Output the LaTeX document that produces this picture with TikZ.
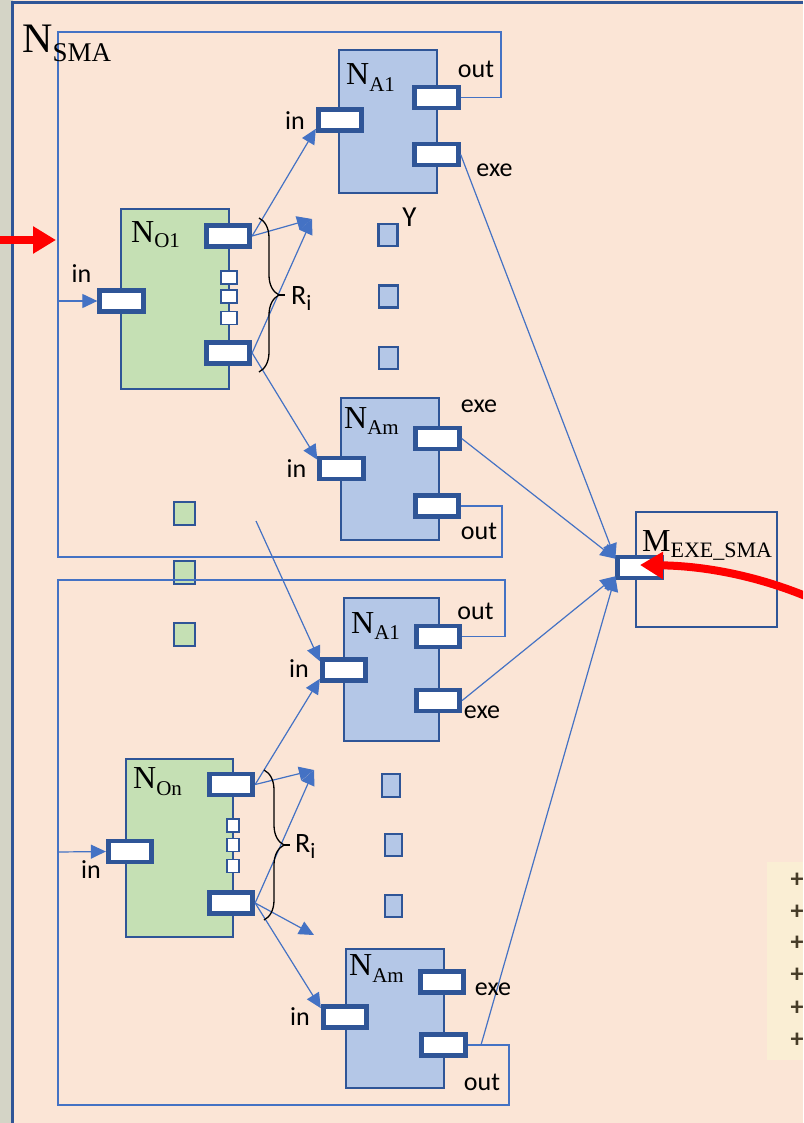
\documentclass[tikz,border=0pt]{standalone}
\usepackage{fontspec}
\setmainfont{Liberation Serif}
\newfontfamily\calib{Carlito}
\usetikzlibrary{arrows.meta,decorations.pathreplacing}
\definecolor{peach}{HTML}{FBE5D6}
\definecolor{gfill}{HTML}{C5E0B4}
\definecolor{bfill}{HTML}{B4C7E7}
\definecolor{dblue}{HTML}{2F5597}
\definecolor{lblue}{HTML}{4472C4}
\definecolor{marble}{RGB}{212,212,198}
\definecolor{pale}{RGB}{250,238,212}
\definecolor{plusc}{RGB}{70,60,40}
\newcommand{\mylab}[4]{{\fontsize{#1}{#1}\selectfont N}\raisebox{-#4pt}{\fontsize{#2}{#2}\selectfont #3}}
\begin{document}
\begin{tikzpicture}[x=1pt,y=-1pt,
 gbox/.style={draw=dblue,fill=gfill,line width=2.2pt,inner sep=0pt},
 bbox/.style={draw=dblue,fill=bfill,line width=2.2pt,inner sep=0pt},
 port/.style={draw=dblue,fill=white,line width=4.8pt,minimum width=43.5pt,minimum height=21pt,inner sep=0pt},
 minisq/.style={draw=dblue,fill=white,line width=1.8pt,inner sep=0pt},
 bsq/.style={draw=dblue,fill=bfill,line width=2.4pt,inner sep=0pt},
 gsq/.style={draw=dblue,fill=gfill,line width=2.4pt,inner sep=0pt,minimum width=20.5pt,minimum height=22.5pt},
 conn/.style={draw=lblue,line width=1.2pt,-{Triangle[length=15pt,width=14pt]}},
 grpframe/.style={draw=lblue,line width=1.3pt},
 lab/.style={font=\calib\fontsize{26}{26}\selectfont,inner sep=0pt,anchor=base},
 nlab/.style={inner sep=0pt,anchor=base west},
 redarrow/.style={draw=red,line width=8pt,-{Triangle[length=23pt,width=26pt]}},
 brc/.style={draw=black,line width=1.3pt,decorate},
 plus/.style={font=\calib\bfseries\fontsize{26}{26}\selectfont,text=plusc,inner sep=0pt}
]
\useasboundingbox (0,0) rectangle (803,1123);
\clip (0,0) rectangle (803,1123);
% background
\fill[marble] (0,0) rectangle (803,1123);
\fill[peach] (12.5,0) rectangle (803,1123);
\draw[dblue,line width=3pt] (12.5,1123) -- (12.5,3) -- (803,3);
\fill[pale] (767,862) rectangle (803,1060);
\foreach \yy/\nm in {880/p1,912/p2,943/p3,975/p4,1008/p5,1040/p6}
  \node[plus] (\nm) at (797,\yy) {+};

% squares between groups
\node[gsq] (g1) at (184.5,513.5) {};
\node[gsq] (g2) at (184.5,572.5) {};
\node[gsq] (g3) at (184.5,634.5) {};

% boxes
\node[gbox,minimum width=108pt,minimum height=180pt] (O1) at (175,299) {};
\node[bbox,minimum width=98pt,minimum height=143pt] (A1) at (388,121.5) {};
\node[bbox,minimum width=98pt,minimum height=142pt] (Am) at (390,469) {};
\node[gbox,minimum width=107pt,minimum height=178pt] (On) at (179.5,848) {};
\node[bbox,minimum width=95pt,minimum height=143pt] (A1b) at (391.5,669.5) {};
\node[bbox,minimum width=98pt,minimum height=139pt] (Amb) at (395,1018.5) {};
\node[draw=dblue,line width=2pt,minimum width=141pt,minimum height=115pt,inner sep=0pt] (M) at (706.5,569.5) {};

% small squares on N_O boxes
\node[minisq,minimum width=16pt,minimum height=13pt] (r1) at (229,277.5) {};
\node[minisq,minimum width=16pt,minimum height=13pt] (r2) at (229,296.5) {};
\node[minisq,minimum width=16pt,minimum height=13pt] (r3) at (229,318) {};
\node[minisq,minimum width=12pt,minimum height=13pt] (s1) at (233,825.5) {};
\node[minisq,minimum width=12pt,minimum height=13pt] (s2) at (233,845) {};
\node[minisq,minimum width=12pt,minimum height=13pt] (s3) at (233,866) {};

% blue squares
\node[bsq,minimum width=19pt,minimum height=22pt] (y1) at (388,235) {};
\node[bsq,minimum width=19pt,minimum height=22pt] (y2) at (388.5,296.5) {};
\node[bsq,minimum width=19pt,minimum height=22pt] (y3) at (388.5,358) {};
\node[bsq,minimum width=17.5pt,minimum height=22.5pt] (z1) at (391,785.5) {};
\node[bsq,minimum width=17.5pt,minimum height=22.5pt] (z2) at (393.5,845) {};
\node[bsq,minimum width=17.5pt,minimum height=22.5pt] (z3) at (393.5,906) {};

% ports
\node[port] (O1in) at (121.5,301) {};
\node[port] (O1top) at (228,236) {};
\node[port] (O1bot) at (228,353) {};
\node[port] (A1in) at (340,120) {};
\node[port] (A1out) at (436.5,97.5) {};
\node[port] (A1exe) at (436.5,154.5) {};
\node[port] (Amin) at (341.5,468.5) {};
\node[port] (Amexe) at (437.5,438.5) {};
\node[port] (Amout) at (437,506) {};
\node[port] (Onin) at (130,851.5) {};
\node[port] (Ontop) at (231,784.5) {};
\node[port] (Onbot) at (231,903) {};
\node[port] (A1bin) at (344,670) {};
\node[port] (A1bout) at (438,636.5) {};
\node[port] (A1bexe) at (438,700.5) {};
\node[port] (Ambin) at (345,1017) {};
\node[port] (Ambexe) at (442,982) {};
\node[port] (Ambout) at (443.5,1045) {};
\node[port] (Min) at (639.5,567.5) {};

% group frames
\draw[grpframe] (A1out.east) -| (501,32) -- (58,32) -- (58,557) -| (502,506) -- (Amout.east);
\draw[grpframe] (A1bout.east) -| (505,580) -- (58,580) -- (58,1105) -| (509,1045) -- (Ambout.east);

% coordinates for free ends
\coordinate (t1) at (312,219);
\coordinate (t2) at (314,770);
\coordinate (t3) at (314,935);
\coordinate (fO1) at (58,301);
\coordinate (fOn) at (58,852);
\coordinate (stray) at (256,521);
\coordinate (bout) at (481,1045);
\coordinate (rs) at (-2,240);
\coordinate (rt) at (56,240);
\coordinate (rr) at (815,600);
\coordinate (rtip) at (640,565);

% connectors
\draw[conn] (O1top.east) -- (A1in.200);
\draw[conn] (O1top.east) -- (t1);
\draw[conn] (O1bot.east) -- (t1);
\draw[conn] (O1bot.east) -- (Amin.160);
\draw[conn] (fO1) -- (O1in.west);
\draw[conn] (A1exe.east) -- (Min.160);
\draw[conn] (Amexe.east) -- (Min.160);
\draw[conn] (A1bexe.east) -- (Min.200);
\draw[conn] (bout) -- (Min.200);
\draw[conn] (stray) -- (A1bin.160);
\draw[conn] (Ontop.east) -- (A1bin.200);
\draw[conn] (Ontop.east) -- (t2);
\draw[conn] (Onbot.east) -- (t2);
\draw[conn] (Onbot.east) -- (t3);
\draw[conn] (Onbot.east) -- (Ambin.160);
\draw[conn] (fOn) -- (Onin.west);

% braces
\draw[brc,decoration={brace,amplitude=20pt}] (259,218) -- (259,372);
\draw[brc,decoration={brace,amplitude=20pt}] (264,770) -- (264,920);
\draw[black,line width=1.3pt] (279,295) -- (285,295);
\draw[black,line width=1.3pt] (284,845) -- (290,845);

% red arrows
\draw[redarrow] (rs) -- (rt);
\draw[redarrow] (rr) .. controls (760,576) and (705,566) .. (rtip);

% N labels
\node[nlab] (lSMA) at (22,53) {\mylab{42}{27}{SMA}{9}};
\node[nlab] (lO1) at (131,243) {\mylab{32}{21}{O1}{5}};
\node[nlab] (lA1) at (346,85) {\mylab{32}{21}{A1}{7}};
\node[nlab] (lAm) at (344,428) {\mylab{32}{21}{Am}{6}};
\node[nlab] (lA1b) at (351,633) {\mylab{32}{21}{A1}{6}};
\node[nlab] (lOn) at (133,788) {\mylab{32}{21}{On}{7}};
\node[nlab] (lAmb) at (349,975) {\mylab{32}{21}{Am}{7}};
\node[nlab] (lM) at (642,551) {{\fontsize{32}{32}\selectfont M}\raisebox{-6pt}{\fontsize{22}{22}\selectfont EXE\_SMA}};

% sans labels
\node[lab] (t_in1) at (295,130) {in};
\node[lab] (t_out1) at (476,78) {out};
\node[lab] (t_exe1) at (494.5,177) {exe};
\node[lab] (t_inO1) at (81.5,282) {in};
\node[lab] (t_Y) at (409.5,227) {\fontsize{29}{29}\selectfont Y};
\node[lab,anchor=base west] (t_R1) at (291,304) {\fontsize{28}{28}\selectfont R\raisebox{-6pt}{\fontsize{22}{22}\selectfont i}};
\node[lab] (t_exe2) at (479,412) {exe};
\node[lab] (t_in2) at (296.5,477) {in};
\node[lab] (t_out2) at (479,539) {out};
\node[lab] (t_out3) at (475.5,619) {out};
\node[lab] (t_exe3) at (482,718) {exe};
\node[lab] (t_in3) at (299,677) {in};
\node[lab] (t_inOn) at (91,878) {in};
\node[lab,anchor=base west] (t_R2) at (295,852) {\fontsize{28}{28}\selectfont R\raisebox{-6pt}{\fontsize{22}{22}\selectfont i}};
\node[lab] (t_exe4) at (493,995) {exe};
\node[lab] (t_in4) at (300,1025) {in};
\node[lab] (t_out4) at (482,1090) {out};
\end{tikzpicture}
\end{document}
